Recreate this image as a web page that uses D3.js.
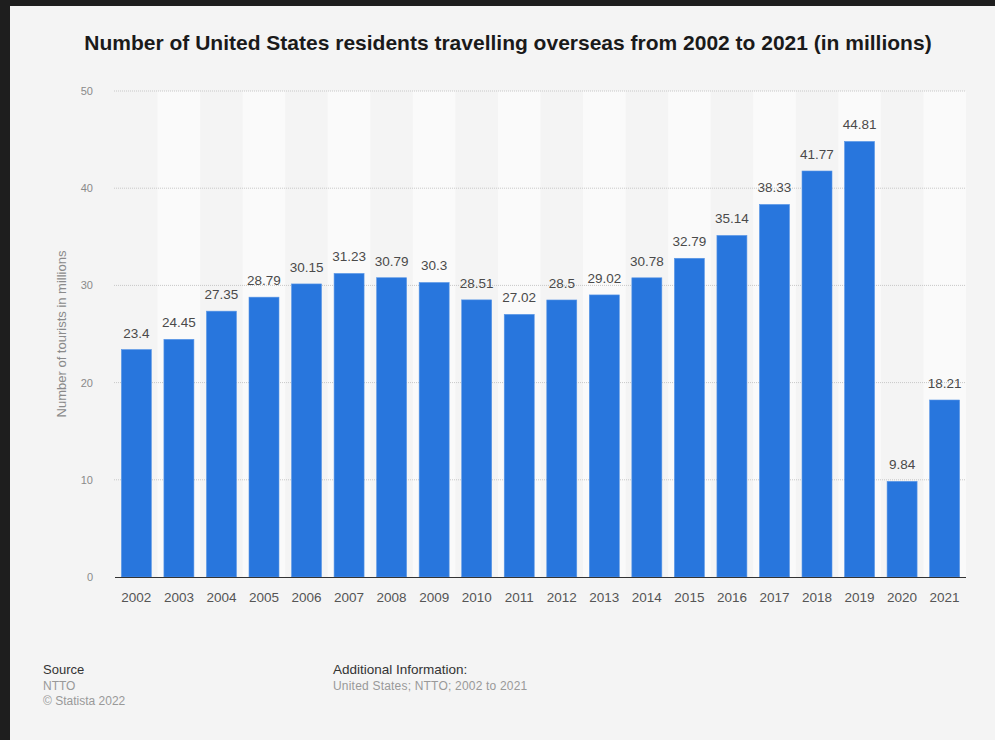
<!DOCTYPE html>
<html>
<head>
<meta charset="utf-8">
<script src="https://cdn.jsdelivr.net/npm/d3@7"></script>
<style>
  html, body { margin: 0; padding: 0; background: #222; }
  svg { display: block; }
  text { font-family: "Liberation Sans", Arial, Helvetica, sans-serif; }
</style>
</head>
<body>
<svg id="chart" width="995" height="740"></svg>
<script>
const years = ["2002","2003","2004","2005","2006","2007","2008","2009","2010","2011","2012","2013","2014","2015","2016","2017","2018","2019","2020","2021"];
const tourists = [23.4,24.45,27.35,28.79,30.15,31.23,30.79,30.3,28.51,27.02,28.5,29.02,30.78,32.79,35.14,38.33,41.77,44.81,9.84,18.21];
const yTicks = [0,10,20,30,40,50];
const valueLabels = ["23.4","24.45","27.35","28.79","30.15","31.23","30.79","30.3","28.51","27.02","28.5","29.02","30.78","32.79","35.14","38.33","41.77","44.81","9.84","18.21"];

(function(){
const svg = d3.select("#chart");
svg.append("rect").attr("x",0).attr("y",0).attr("width",995).attr("height",740).attr("fill","#1e1e1e");
svg.append("rect").attr("x",10).attr("y",6).attr("width",985).attr("height",734).attr("fill","#f4f4f4");

const pL = 115, pR = 966, pT = 91, pB = 577;
const x = d3.scaleBand().domain(years).range([pL, pR]).paddingInner(0.295).paddingOuter(0.15);
const xBand = d3.scaleBand().domain(years).range([pL, pR]).padding(0);
const y = d3.scaleLinear().domain([0, 50]).range([pB, pT]);

svg.append("g").selectAll("rect").data(years.filter((d,i)=> i%2===1)).join("rect")
  .attr("x", d => xBand(d)).attr("y", pT).attr("width", xBand.bandwidth()).attr("height", pB - pT)
  .attr("fill", "#fafafa");

svg.append("g").selectAll("line").data(yTicks.filter(t=>t>0)).join("line")
  .attr("x1", pL - 1).attr("x2", pR).attr("y1", d => y(d)).attr("y2", d => y(d))
  .attr("stroke", "#c8c8c8").attr("stroke-width", 1).attr("stroke-dasharray", "1,1");

svg.append("g").selectAll("text").data(yTicks).join("text")
  .attr("x", 93).attr("y", d => y(d) + 4).attr("text-anchor", "end")
  .attr("font-size", 11).attr("fill", "#8a8a8a").text(d => d);

svg.append("g").selectAll("rect").data(tourists).join("rect")
  .attr("x", (d,i) => x(years[i])).attr("y", d => y(d))
  .attr("width", x.bandwidth()).attr("height", d => pB - y(d))
  .attr("fill", "#2876dd").attr("stroke", "#5a97e6").attr("stroke-width", 0.6);

svg.append("g").selectAll("text").data(tourists).join("text")
  .attr("x", (d,i) => x(years[i]) + x.bandwidth()/2).attr("y", d => y(d) - 12)
  .attr("text-anchor", "middle").attr("font-size", 13.5).attr("fill", "#4a4a4a")
  .text((d,i) => valueLabels[i]);

svg.append("line").attr("x1", pL).attr("x2", pR).attr("y1", pB + 0.5).attr("y2", pB + 0.5)
  .attr("stroke", "#333").attr("stroke-width", 1.2);

svg.append("g").selectAll("text").data(years).join("text")
  .attr("x", d => x(d) + x.bandwidth()/2).attr("y", 602).attr("text-anchor", "middle")
  .attr("font-size", 13.5).attr("fill", "#555").text(d => d);

svg.append("text").attr("transform", "translate(66,334) rotate(-90)")
  .attr("text-anchor", "middle").attr("font-size", 13).attr("fill", "#8a8a8a")
  .text("Number of tourists in millions");

svg.append("text").attr("x", 508).attr("y", 50).attr("text-anchor", "middle")
  .attr("font-size", 21).attr("font-weight", "bold").attr("fill", "#1a1a1a")
  .text("Number of United States residents travelling overseas from 2002 to 2021 (in millions)");

svg.append("text").attr("x", 43).attr("y", 674).attr("font-size", 13).attr("fill", "#333").text("Source");
svg.append("text").attr("x", 43).attr("y", 690).attr("font-size", 12).attr("fill", "#999").text("NTTO");
svg.append("text").attr("x", 43).attr("y", 705).attr("font-size", 12).attr("fill", "#999").text("© Statista 2022");
svg.append("text").attr("x", 333).attr("y", 674).attr("font-size", 13.5).attr("fill", "#333").text("Additional Information:");
svg.append("text").attr("x", 333).attr("y", 690).attr("font-size", 12).attr("fill", "#999").attr("letter-spacing", 0.2).text("United States; NTTO; 2002 to 2021");
})();
</script>
</body>
</html>
